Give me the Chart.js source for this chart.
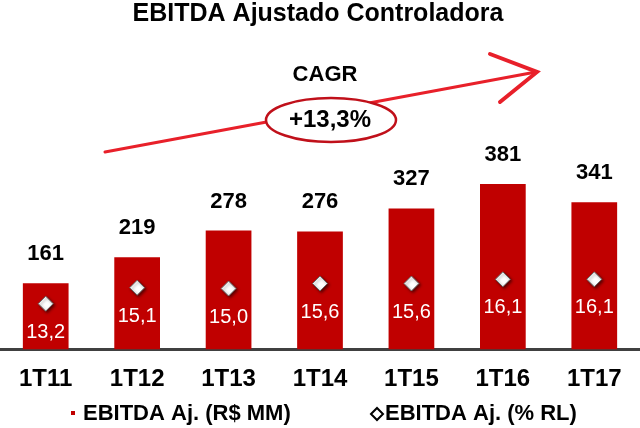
<!DOCTYPE html>
<html>
<head>
<meta charset="utf-8">
<script src="https://cdn.jsdelivr.net/npm/chart.js@4/dist/chart.umd.min.js"></script>
<style>
  html, body { margin: 0; padding: 0; background: #fff; }
  #wrap { width: 640px; height: 428px; }
</style>
</head>
<body>
<div id="wrap"><canvas id="grafico"></canvas></div>
<script>
const periodos = ["1T11", "1T12", "1T13", "1T14", "1T15", "1T16", "1T17"];
const ebitdaMM = [161, 219, 278, 276, 327, 381, 341];
const margemRL = [13.2, 15.1, 15.0, 15.6, 15.6, 16.1, 16.1];
const labelMM = ["161", "219", "278", "276", "327", "381", "341"];
const labelRL = ["13,2", "15,1", "15,0", "15,6", "15,6", "16,1", "16,1"];
const legendas = ["EBITDA Aj. (R$ MM)", "EBITDA Aj. (% RL)"];
const cagrTexto = "+13,3%";

const FONTE = "'Liberation Sans', Arial, sans-serif";
const VERMELHO = "#c00000";

// sombra nos losangos
const sombra = {
  id: "sombra",
  beforeDatasetDraw(chart, args) {
    if (args.index !== 1) return;
    const ctx = chart.ctx;
    ctx.save();
    ctx.shadowColor = "rgba(0,0,0,0.55)";
    ctx.shadowBlur = 3;
    ctx.shadowOffsetX = 1.5;
    ctx.shadowOffsetY = 1.5;
  },
  afterDatasetDraw(chart, args) {
    if (args.index !== 1) return;
    chart.ctx.restore();
  }
};

const extras = {
  id: "extras",
  afterDraw(chart) {
    const ctx = chart.ctx;
    ctx.save();

    // titulo
    ctx.fillStyle = "#000";
    ctx.textAlign = "center";
    ctx.textBaseline = "alphabetic";
    ctx.font = "bold 25px " + FONTE;
    ctx.fillText("EBITDA Ajustado Controladora", 318, 21);

    // seta CAGR
    ctx.strokeStyle = "#e8202a";
    ctx.lineCap = "round";
    ctx.lineWidth = 3;
    ctx.beginPath();
    ctx.moveTo(105, 152);
    ctx.lineTo(536, 72);
    ctx.stroke();
    ctx.lineWidth = 4;
    ctx.beginPath();
    ctx.moveTo(490, 54);
    ctx.lineTo(537, 72);
    ctx.lineTo(500, 102);
    ctx.stroke();

    ctx.font = "bold 22px " + FONTE;
    ctx.fillText("CAGR", 325, 81);

    ctx.beginPath();
    ctx.ellipse(331, 120, 65, 22, 0, 0, Math.PI * 2);
    ctx.fillStyle = "#fff";
    ctx.fill();
    ctx.lineWidth = 2.5;
    ctx.strokeStyle = "#c0101a";
    ctx.stroke();
    ctx.fillStyle = "#000";
    ctx.font = "bold 24px " + FONTE;
    ctx.fillText(cagrTexto, 330, 127);

    // rotulos das barras
    const barras = chart.getDatasetMeta(0).data;
    ctx.font = "bold 22px " + FONTE;
    barras.forEach((b, i) => {
      ctx.fillText(labelMM[i], b.x, b.y - 23);
    });

    // rotulos da margem
    const pontos = chart.getDatasetMeta(1).data;
    ctx.fillStyle = "#fff";
    ctx.font = "20px " + FONTE;
    pontos.forEach((p, i) => {
      ctx.fillText(labelRL[i], p.x, p.y + 34);
    });

    // legenda
    ctx.textAlign = "left";
    ctx.fillStyle = VERMELHO;
    ctx.fillRect(71, 411, 4, 4);
    ctx.fillStyle = "#000";
    ctx.font = "bold 22px " + FONTE;
    ctx.fillText(legendas[0], 83, 420);

    ctx.beginPath();
    ctx.moveTo(371, 414);
    ctx.lineTo(377, 408);
    ctx.lineTo(383, 414);
    ctx.lineTo(377, 420);
    ctx.closePath();
    ctx.lineWidth = 2;
    ctx.strokeStyle = "#000";
    ctx.stroke();
    ctx.fillText(legendas[1], 385, 420);

    ctx.restore();
  }
};

new Chart(document.getElementById("grafico"), {
  type: "bar",
  data: {
    labels: periodos,
    datasets: [
      {
        label: legendas[0],
        data: ebitdaMM,
        backgroundColor: VERMELHO,
        barPercentage: 0.5,
        categoryPercentage: 1.0,
        yAxisID: "y",
        order: 1
      },
      {
        type: "line",
        label: legendas[1],
        data: margemRL,
        showLine: false,
        pointStyle: "rectRot",
        pointRadius: 7.5,
        pointBackgroundColor: "#fff",
        pointBorderColor: "#666",
        pointBorderWidth: 1,
        yAxisID: "y2",
        order: 0
      }
    ]
  },
  options: {
    responsive: true,
    maintainAspectRatio: false,
    animation: false,
    layout: { autoPadding: false, padding: { top: 176, left: 0, right: 0, bottom: 18 } },
    plugins: {
      legend: { display: false },
      tooltip: { enabled: false }
    },
    scales: {
      x: {
        grid: { display: false, drawTicks: false },
        border: { display: true, color: "#404040", width: 3 },
        ticks: {
          color: "#000",
          padding: 16,
          font: { family: FONTE, size: 24, weight: "bold" }
        }
      },
      y: {
        display: false,
        min: 15,
        max: 399
      },
      y2: {
        display: false,
        min: 7.77,
        max: 28.42
      }
    }
  },
  plugins: [sombra, extras]
});
</script>
</body>
</html>
